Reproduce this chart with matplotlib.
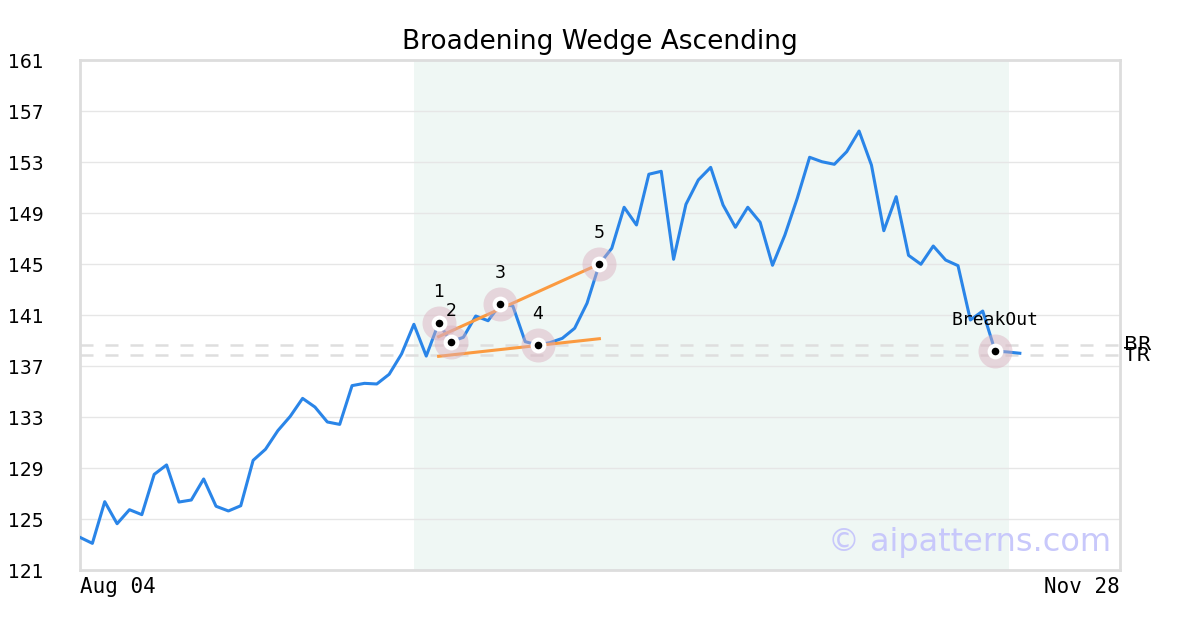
import matplotlib
matplotlib.use("Agg")
import matplotlib.pyplot as plt
import matplotlib.transforms as mtransforms

# closing prices, one per trading day starting Aug 04
prices = [123.56, 123.09, 126.36, 124.63, 125.73, 125.34, 128.50, 129.24, 126.33, 126.49,
          128.14, 126.00, 125.63, 126.04, 129.60, 130.47, 131.93, 133.05, 134.46, 133.78,
          132.61, 132.42, 135.46, 135.64, 135.59, 136.35, 137.94, 140.27, 137.78, 140.37,
          138.91, 139.25, 140.92, 140.55, 141.86, 141.71, 138.91, 138.65, 138.83, 139.17,
          139.96, 141.92, 145.00, 146.23, 149.45, 148.06, 152.04, 152.27, 145.37, 149.68,
          151.59, 152.58, 149.63, 147.88, 149.45, 148.27, 144.90, 147.27, 150.15, 153.37,
          153.02, 152.82, 153.81, 155.43, 152.76, 147.61, 150.28, 145.68, 144.98, 146.41,
          145.31, 144.87, 140.61, 141.31, 138.18, 138.10, 138.00]

# pattern points (index into prices) and their labels
pivot_idx = [29, 30, 34, 37, 42]
pivot_labels = ["1", "2", "3", "4", "5"]
breakout_idx = 74

# wedge trend lines (start index, start value, end index, end value)
upper_line = (29, 139.3, 42, 145.0)
lower_line = (29, 137.76, 42, 139.14)

# support / resistance levels
br_level = 138.65
tr_level = 137.86

pattern_start, pattern_end = 27, 75.15
x_end = 84.1
date_labels = ["Aug 04", "Nov 28"]
y_ticks = [121, 125, 129, 133, 137, 141, 145, 149, 153, 157, 161]


def main():
    fig = plt.figure(figsize=(12, 6.3), dpi=100)
    ax = fig.add_axes([80 / 1200, 1 - 570 / 630, 1040 / 1200, 510 / 630])

    x = list(range(len(prices)))

    ax.axvspan(pattern_start, pattern_end, color="#eff7f4", zorder=0, lw=0)
    for lvl in (br_level, tr_level):
        ax.axhline(lvl, color="#dedede", lw=1.8, linestyle=(0, (5.2, 4.8)), zorder=1)

    ax.plot(x, prices, color="#2a85e8", lw=2.2, zorder=3)

    for ln in (upper_line, lower_line):
        ax.plot([ln[0], ln[2]], [ln[1], ln[3]], color="#fb9a40", lw=2.2, zorder=4)

    # markers: pink halo, white ring, black dot
    px = pivot_idx + [breakout_idx]
    py = [prices[i] for i in px]
    ax.scatter(px, py, s=600, color=(0.85, 0.68, 0.74), alpha=0.45, lw=0, zorder=5)
    ax.scatter(px, py, s=130, color="white", lw=0, zorder=6)
    ax.scatter(px, py, s=30, color="black", lw=0, zorder=7)

    for i, lab in zip(pivot_idx, pivot_labels):
        ax.annotate(lab, (i, prices[i]), xytext=(0, 22), textcoords="offset points",
                    ha="center", va="center", fontsize=12.5, zorder=8)
    ax.annotate("BreakOut", (breakout_idx, prices[breakout_idx]), xytext=(0, 22),
                textcoords="offset points", ha="center", va="center",
                fontsize=13, family="DejaVu Sans Mono", zorder=8)

    trans = mtransforms.blended_transform_factory(ax.transAxes, ax.transData)
    ax.text(1.004, br_level, "BR", transform=trans, ha="left", va="center", fontsize=14.5, clip_on=False)
    ax.text(1.004, tr_level, "TR", transform=trans, ha="left", va="center", fontsize=14.5, clip_on=False)

    ax.text(0.991, 0.053, "\u00a9 aipatterns.com", transform=ax.transAxes, ha="right",
            va="center", fontsize=23, color="#c8c8fb", zorder=9)

    ax.set_xlim(0, x_end)
    ax.set_ylim(121, 161)
    ax.set_yticks(y_ticks)
    ax.set_yticklabels([str(t) for t in y_ticks])
    ax.set_xticks([0, x_end])
    ax.set_xticklabels(date_labels, family="DejaVu Sans Mono", fontsize=15)
    xl = ax.get_xticklabels()
    xl[0].set_ha("left")
    xl[1].set_ha("right")
    ax.tick_params(axis="y", length=0, pad=26, labelsize=13.5)
    ax.tick_params(axis="x", length=0, pad=5)

    ax.grid(axis="y", color="#e6e6e6", lw=1)
    ax.set_axisbelow(True)
    for sp in ax.spines.values():
        sp.set_color("#dddddd")
        sp.set_linewidth(2)

    ax.set_title("Broadening Wedge Ascending", fontsize=19, pad=8)

    fig.savefig("out.png", dpi=100)


if __name__ == "__main__":
    main()
